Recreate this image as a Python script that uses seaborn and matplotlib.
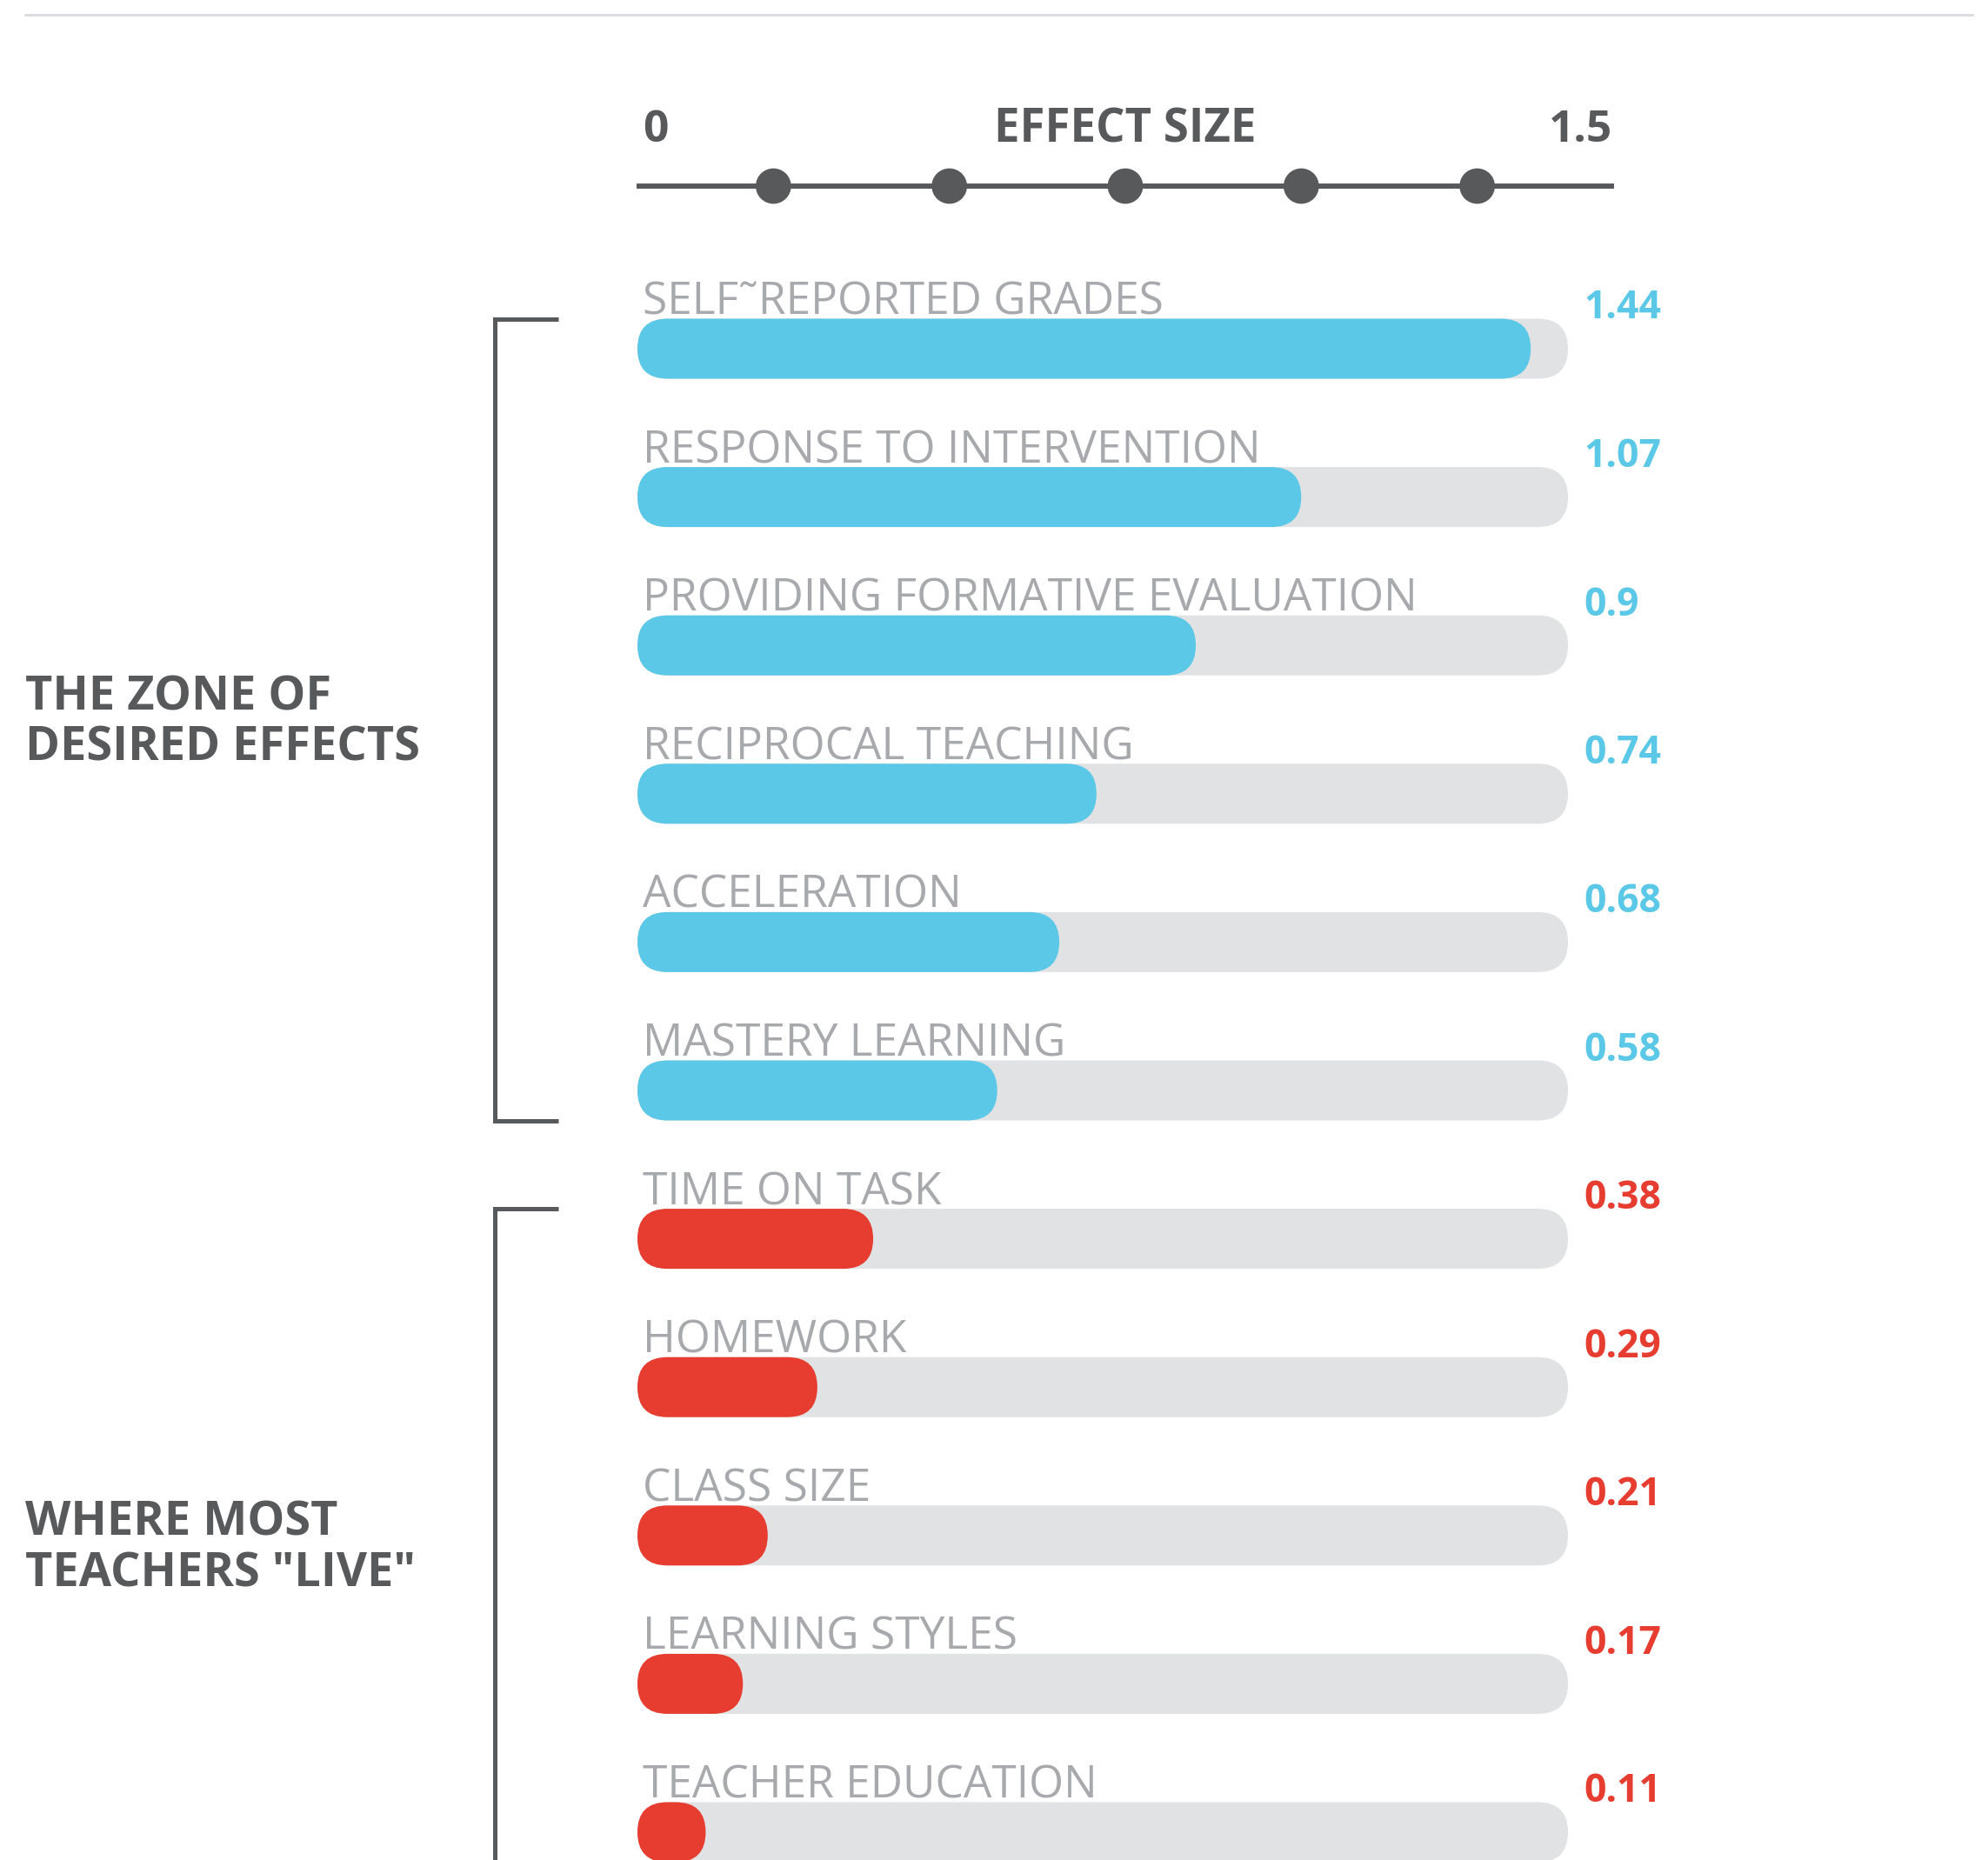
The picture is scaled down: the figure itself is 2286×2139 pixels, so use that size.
import numpy as np
import pandas as pd
import matplotlib
matplotlib.use("Agg")
import matplotlib.pyplot as plt
import seaborn as sns
from matplotlib.patches import FancyBboxPatch
from matplotlib.lines import Line2D
import matplotlib.transforms as mtransforms

# -----------------------------
# DATA
# -----------------------------

labels = [
    "SELF˜REPORTED GRADES",
    "RESPONSE TO INTERVENTION",
    "PROVIDING FORMATIVE EVALUATION",
    "RECIPROCAL TEACHING",
    "ACCELERATION",
    "MASTERY LEARNING",
    "TIME ON TASK",
    "HOMEWORK",
    "CLASS SIZE",
    "LEARNING STYLES",
    "TEACHER EDUCATION",
]
values = [1.44, 1.07, 0.9, 0.74, 0.68, 0.58, 0.38, 0.29, 0.21, 0.17, 0.11]
value_text = ["1.44", "1.07", "0.9", "0.74", "0.68", "0.58",
              "0.38", "0.29", "0.21", "0.17", "0.11"]
groups = ["desired"] * 6 + ["live"] * 5
group_titles = {"desired": "THE ZONE OF\nDESIRED EFFECTS",
                "live": "WHERE MOST\nTEACHERS \"LIVE\""}
scale_max = 1.5
scale_dots = [0.21, 0.48, 0.75, 1.02, 1.29]

BLUE = "#5AC8E6"
RED = "#E63D30"
TRACK = "#E1E2E4"
LABEL_GRAY = "#A7A9AC"
DARK = "#58595B"
palette = {"desired": BLUE, "live": RED}

df = pd.DataFrame({
    "label": labels,
    "value": values,
    "track": [scale_max] * len(labels),
    "group": groups,
})

# -----------------------------
# FIGURE
# -----------------------------

sns.set_theme(style="white")
plt.rcParams["font.family"] = ["Open Sans", "DejaVu Sans"]

W, H = 2286, 2139
fig = plt.figure(figsize=(W / 100, H / 100), dpi=100)
fig.patch.set_facecolor("white")


def px_box(x0, y0, x1, y1):
    # pixel box (from top-left) -> figure fraction rect
    return [x0 / W, 1 - y1 / H, (x1 - x0) / W, (y1 - y0) / H]


# thin rule at top
fig.add_artist(Line2D([29 / W, 2268 / W], [1 - 17 / H, 1 - 17 / H],
                      color="#DCDDDE", lw=2.2, transform=fig.transFigure))

# -----------------------------
# TOP SCALE
# -----------------------------

ax_top = fig.add_axes(px_box(732, 110, 1856, 318))
ax_top.set_xlim(0, scale_max)
ax_top.set_ylim(-1, 1)
ax_top.axis("off")

sns.lineplot(x=[0, scale_max], y=[0, 0], color=DARK, lw=4.3, ax=ax_top)
sns.scatterplot(x=scale_dots, y=[0] * len(scale_dots), s=860,
                color=DARK, edgecolor="none", ax=ax_top, zorder=3)

ax_top.text(0.009, 0.49, "0", ha="left", va="baseline",
            fontsize=37, fontweight="bold", color=DARK)
ax_top.text(0.75, 0.49, "EFFECT SIZE", ha="center", va="baseline",
            fontsize=38, fontweight="bold", color=DARK)
ax_top.text(1.497, 0.49, "1.5", ha="right", va="baseline",
            fontsize=37, fontweight="bold", color=DARK)

# -----------------------------
# BARS
# -----------------------------

row0 = 401      # px centre of first row
step = 170.6    # px between rows
bar_h = 69 / step

top_px = row0 - 0.5 * step
ax = fig.add_axes(px_box(733, top_px, 1803, H))
n_span = (H - top_px) / step

sns.barplot(data=df, y="label", x="track", color=TRACK, orient="h",
            width=bar_h, saturation=1, ax=ax)
sns.barplot(data=df, y="label", x="value", hue="group", palette=palette,
            orient="h", width=bar_h, dodge=False, legend=False,
            saturation=1, ax=ax)

ax.set_xlim(0, scale_max)
ax.set_ylim(-0.5 + n_span, -0.5)
ax.axis("off")

# turn bars into pills
fig.canvas.draw()
p0 = ax.transData.transform((0, 0))
p1 = ax.transData.transform((1, 1))
x_per_px = 1 / abs(p1[0] - p0[0])
y_per_px = 1 / abs(p1[1] - p0[1])
aspect = y_per_px / x_per_px
radius = (bar_h / 2) / aspect

old = list(ax.patches)
for p in old:
    x, y = p.get_x(), p.get_y()
    w, h = p.get_width(), p.get_height()
    fc = p.get_facecolor()
    z = p.get_zorder()
    p.remove()
    pill = FancyBboxPatch((x, y), w, h,
                          boxstyle=f"round,pad=0,rounding_size={radius}",
                          mutation_aspect=aspect, facecolor=fc,
                          edgecolor="none", zorder=z)
    ax.add_patch(pill)

# text labels
for i, (lab, txt, g) in enumerate(zip(labels, value_text, groups)):
    bar_top = i - bar_h / 2
    ax.text(0.008, bar_top - 5 * y_per_px, lab, ha="left", va="baseline",
            fontsize=37, fontweight="normal", color=LABEL_GRAY, clip_on=False)
    ax.text(scale_max + 18 * x_per_px, bar_top, txt, ha="left",
            va="baseline", fontsize=32, fontweight="bold",
            color=palette[g], clip_on=False)

# brackets + group titles
blend = mtransforms.blended_transform_factory(fig.transFigure, ax.transData)
title_shift = {"desired": 4, "live": 15}   # px nudge downwards
for g in ["desired", "live"]:
    idx = [i for i, gg in enumerate(groups) if gg == g]
    y_top = idx[0] - bar_h / 2
    y_bot = idx[-1] + bar_h / 2
    xs = [642 / W, 569 / W, 569 / W, 642 / W]
    ys = [y_top, y_top, y_bot, y_bot]
    fig.add_artist(Line2D(xs, ys, color=DARK, lw=3.6, transform=blend,
                          solid_joinstyle="miter", solid_capstyle="butt"))
    t = fig.text(29 / W, 0, group_titles[g], transform=blend,
                 ha="left", va="center", fontsize=39, fontweight="bold",
                 color=DARK, linespacing=1.12)
    t.set_y((y_top + y_bot) / 2 + title_shift[g] * y_per_px)

fig.savefig("out.png", dpi=100, facecolor="white")
